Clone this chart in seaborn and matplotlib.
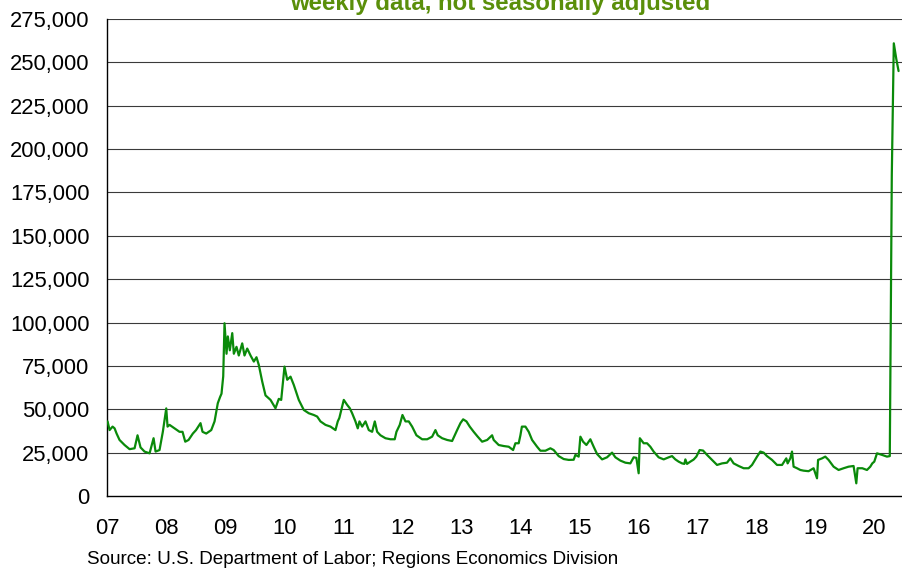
import numpy as np
import pandas as pd
import matplotlib
matplotlib.use("Agg")
import matplotlib.pyplot as plt
import seaborn as sns
from matplotlib.ticker import FuncFormatter

# weekly claims (time as years after 2007, values in thousands)
yr_offset = [
    0.000, 0.034, 0.085, 0.119, 0.153, 0.203, 0.288, 0.373, 0.458, 0.508,
    0.559, 0.627, 0.712, 0.780, 0.814, 0.881, 0.937, 0.995, 1.017, 1.051,
    1.136, 1.220, 1.271, 1.317, 1.373, 1.446, 1.500, 1.576, 1.610, 1.673,
    1.758, 1.814, 1.869, 1.907, 1.932, 1.961, 1.983, 2.017, 2.039, 2.073,
    2.114, 2.141, 2.186, 2.225, 2.283, 2.322, 2.368, 2.424, 2.480, 2.525,
    2.564, 2.622, 2.678, 2.763, 2.847, 2.903, 2.944, 3.000, 3.046, 3.102,
    3.158, 3.242, 3.327, 3.412, 3.497, 3.554, 3.610, 3.695, 3.780, 3.864,
    3.903, 3.930, 4.005, 4.063, 4.107, 4.147, 4.203, 4.242, 4.271, 4.317,
    4.373, 4.429, 4.486, 4.531, 4.571, 4.627, 4.712, 4.797, 4.869, 4.898,
    4.954, 5.000, 5.051, 5.107, 5.164, 5.237, 5.334, 5.419, 5.503, 5.559,
    5.598, 5.673, 5.758, 5.842, 5.886, 5.927, 5.983, 6.029, 6.085, 6.141,
    6.208, 6.276, 6.351, 6.436, 6.520, 6.547, 6.632, 6.717, 6.802, 6.876,
    6.915, 6.971, 7.000, 7.025, 7.085, 7.141, 7.198, 7.283, 7.339, 7.424,
    7.508, 7.564, 7.649, 7.734, 7.819, 7.903, 7.932, 7.988, 8.017, 8.063,
    8.119, 8.186, 8.242, 8.300, 8.385, 8.469, 8.554, 8.610, 8.695, 8.780,
    8.864, 8.920, 8.966, 9.005, 9.025, 9.090, 9.147, 9.203, 9.259, 9.344,
    9.429, 9.514, 9.571, 9.627, 9.683, 9.741, 9.780, 9.797, 9.825, 9.881,
    9.937, 9.983, 10.039, 10.097, 10.164, 10.249, 10.334, 10.419, 10.503, 10.559,
    10.615, 10.700, 10.785, 10.869, 10.927, 11.012, 11.068, 11.124, 11.181, 11.266,
    11.351, 11.436, 11.508, 11.531, 11.576, 11.605, 11.632, 11.690, 11.746, 11.802,
    11.886, 11.971, 12.029, 12.047, 12.114, 12.169, 12.225, 12.310, 12.395, 12.480,
    12.564, 12.649, 12.695, 12.717, 12.797, 12.876, 12.932, 12.966, 13.000, 13.046,
    13.131, 13.215, 13.263, 13.297, 13.314, 13.331, 13.373, 13.412,
]
claims_k = [
    43, 38, 40, 39, 36, 32.3, 29.4, 27, 27.5, 35,
    28, 25.6, 24.6, 33.3, 25.6, 26.5, 37, 50.5, 40, 41,
    39, 37, 37, 31.3, 32.3, 36, 38, 42, 37, 36,
    38, 43, 53.5, 57, 59, 69, 99.6, 82, 92, 84,
    93.9, 82, 86, 81, 88, 81, 85, 81, 77.5, 80,
    75.6, 66, 58, 55.4, 50.6, 56, 55.4, 74.6, 67, 68.8,
    64, 55.4, 49.6, 47.7, 46.7, 45.8, 43, 41, 40, 38,
    43, 45, 55.4, 52.5, 50.6, 47.7, 43, 39, 43, 40,
    43, 38, 37, 43, 37, 35, 33.3, 32.7, 32.7, 37,
    41, 46.7, 43, 43, 40, 35, 32.7, 32.7, 34.2, 38,
    35, 33.3, 32.3, 31.7, 35, 38, 42, 44.2, 43, 40,
    37, 34.2, 31.3, 32.3, 35, 32.3, 29.4, 28.8, 28.4, 26.5,
    30.4, 30.4, 35, 40, 40, 37, 32.3, 28.4, 26.1, 26.1,
    27.5, 26.5, 23, 21.3, 20.8, 20.9, 23.7, 22.7, 34.2, 31.3,
    29.4, 32.7, 28.4, 24.2, 21.1, 22.3, 25, 22.3, 20.4, 19.2,
    18.8, 22.3, 22, 13.1, 33.3, 30.4, 30.4, 28.4, 25.6, 22.3,
    21.1, 22.3, 23, 21.1, 19.8, 18.8, 18.5, 21.1, 18.5, 19.8,
    21, 22.7, 26.5, 26.2, 23.7, 20.8, 17.9, 18.8, 19.2, 21.7,
    18.8, 17.3, 16, 16, 17.9, 22.7, 25.6, 25, 23, 20.8,
    17.9, 17.9, 21.7, 18.8, 21.7, 25.6, 16.9, 16, 15, 14.6,
    14.3, 16, 10.2, 20.8, 21.7, 22.7, 20.8, 16.9, 15, 16,
    16.9, 17.3, 7.3, 16, 16, 15, 16.9, 18.8, 19.8, 24.6,
    23.7, 22.7, 23, 185, 225, 261, 252, 245,
]
year_ticks = list(range(2007, 2021))
year_labels = [f"{y % 100:02d}" for y in year_ticks]
y_ticks = list(range(0, 275001, 25000))

df = pd.DataFrame({
    "year": 2007 + np.array(yr_offset),
    "claims": np.array(claims_k) * 1000,
})

sns.set_style("white")
plt.rcParams["font.family"] = ["Liberation Sans", "DejaVu Sans"]

fig = plt.figure(figsize=(9.02, 5.73), dpi=100)
ax = fig.add_axes([0.1186, 0.1344, 0.8814, 0.8324])

for y in y_ticks[1:]:
    ax.axhline(y, color="#3a3a3a", linewidth=0.8, zorder=1)

sns.lineplot(data=df, x="year", y="claims", color="#0a8a0a", linewidth=1.6,
             ax=ax, zorder=3)

ax.set_xlim(2006.99, 2020.47)
ax.set_ylim(0, 275000)
ax.set_xticks(year_ticks)
ax.set_xticklabels(year_labels)
ax.set_yticks(y_ticks)
ax.yaxis.set_major_formatter(FuncFormatter(lambda v, p: f"{int(v):,}"))
ax.set_xlabel("")
ax.set_ylabel("")

for side in ["top", "right"]:
    ax.spines[side].set_visible(False)
for side in ["left", "bottom"]:
    ax.spines[side].set_color("black")
    ax.spines[side].set_linewidth(1.0)

ax.tick_params(axis="y", direction="out", length=4.5, width=0.8, pad=8,
               labelsize=15.8, colors="black")
ax.tick_params(axis="x", direction="out", length=4.5, width=0.8, pad=11,
               labelsize=15.8, colors="black")

fig.text(0.555, 1 - 10 / 573, "weekly data, not seasonally adjusted",
         ha="center", va="baseline", fontsize=17.3, fontweight="bold",
         color="#5a8f0a")
fig.text(0.0965, 0.0227, "Source: U.S. Department of Labor; Regions Economics Division",
         ha="left", va="center", fontsize=13.6, color="black")

fig.savefig("out.png", dpi=100)
